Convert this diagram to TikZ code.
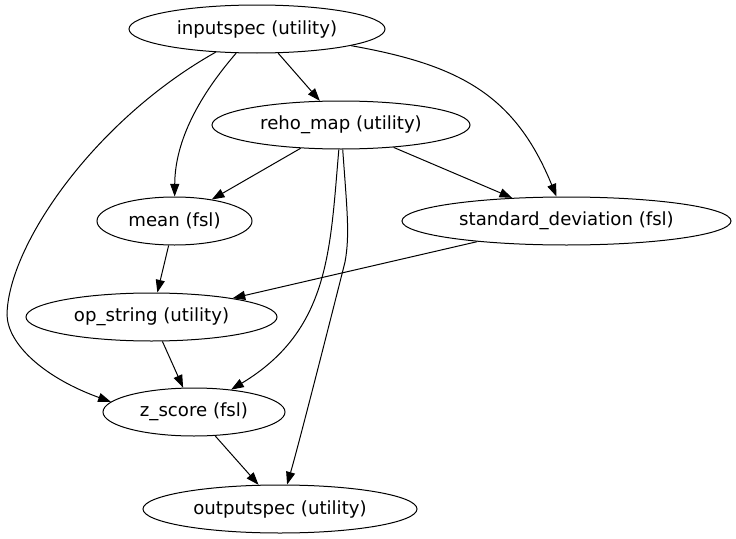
\documentclass[tikz,border=0pt]{standalone}
\usepackage{fontspec}
\setmainfont{DejaVu Sans}
\usetikzlibrary{shapes.geometric,arrows.meta}
\tikzset{
  proc/.style={draw, ellipse, inner sep=0pt, line width=0.75pt, minimum height=36pt, font=\fontsize{13.6}{16}\selectfont},
  link/.style={-{Triangle[length=9.5pt,width=6.8pt]}, line width=0.75pt}
}
\begin{document}
\begin{tikzpicture}[x=0.75pt, y=-0.75pt]
            \useasboundingbox (0,0) rectangle (736,539);
            \node[proc, minimum width=192pt] (inputspec) at (257,29) {inputspec (utility)};
            \node[proc, minimum width=193.5pt] (reho) at (341,125) {reho\_map (utility)};
            \node[proc, minimum width=116.25pt] (mean) at (174.5,221) {mean (fsl)};
            \node[proc, minimum width=246.75pt] (stddev) at (566.5,221) {standard\_deviation (fsl)};
            \node[proc, minimum width=188.25pt] (opstring) at (151.5,317) {op\_string (utility)};
            \node[proc, minimum width=136.5pt] (zscore) at (194,412) {z\_score (fsl)};
            \node[proc, minimum width=205.5pt] (outputspec) at (280,509) {outputspec (utility)};

            \draw[link] (inputspec) -- (reho);
            \draw[link] (inputspec) .. controls (200,95) and (175,140) .. (mean);
            \draw[link] (inputspec) .. controls (460,65) and (515,95) .. (stddev);
            \draw[link] (inputspec) .. controls (95,120) and (8,245) .. (7,315) .. controls (8,345) and (45,378) .. (zscore.173);
            \draw[link] (reho) -- (mean);
            \draw[link] (reho) -- (stddev);
            \draw[link] (reho) .. controls (330,250) and (330,330) .. (zscore);
            \draw[link] (reho) .. controls (347,210) and (350,235) .. (345,262) .. controls (338,290) and (300,440) .. (outputspec);
            \draw[link] (mean) -- (opstring);
            \draw[link] (stddev) -- (opstring);
            \draw[link] (opstring) -- (zscore);
            \draw[link] (zscore) -- (outputspec);
        \end{tikzpicture}
\end{document}
